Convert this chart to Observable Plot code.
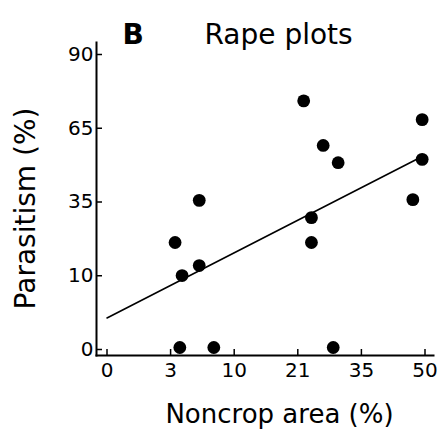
<!DOCTYPE html>
<html>
<head>
<meta charset="utf-8">
<script src="https://cdn.jsdelivr.net/npm/d3@7"></script>
<script src="https://cdn.jsdelivr.net/npm/@observablehq/plot@0.6"></script>
<style>
  html, body { margin: 0; padding: 0; background: #fff; }
</style>
</head>
<body>
<div id="chart"></div>
<script>
// Data (percent values)
const noncropArea = [21.8, 49.3, 25.9, 29.2, 49.3, 47.0, 5.1, 23.4, 2.8, 23.4, 5.1, 3.4, 3.2, 6.8, 28.1];
const parasitism  = [75.3, 68.1, 57.5, 50.2, 51.6, 34.7, 34.4, 27.6, 18.7, 18.7, 11.7, 9.1, 0, 0, 0];

// Tick labels (axes are arcsine-square-root transformed, equally spaced in degrees)
const xTickLabels = [0, 3, 10, 21, 35, 50];
const yTickLabels = [0, 10, 35, 65, 90];
const panelLetter = "B";
const panelTitle = "Rape plots";
const xLabel = "Noncrop area (%)";
const yLabel = "Parasitism (%)";

// arcsine square-root transform (degrees)
const asinSqrt = p => Math.asin(Math.sqrt(p / 100)) * 180 / Math.PI;

const points = noncropArea.map((x, i) => ({x: asinSqrt(x), y: asinSqrt(parasitism[i])}));

const xTickPos = xTickLabels.map((_, i) => i * 9);
const yTickPos = yTickLabels.map((_, i) => i * 18);
const xFmt = new Map(xTickPos.map((p, i) => [p, String(xTickLabels[i])]));
const yFmt = new Map(yTickPos.map((p, i) => [p, String(yTickLabels[i])]));

// least-squares fit in transformed space, drawn from x = 0 to the largest x
const mx = d3.mean(points, d => d.x), my = d3.mean(points, d => d.y);
const slope = d3.sum(points, d => (d.x - mx) * (d.y - my)) / d3.sum(points, d => (d.x - mx) ** 2);
const intercept = my - slope * mx;
const xMax = d3.max(points, d => d.x);
const fit = [0, xMax].map(x => ({x, y: intercept + slope * x}));

const font = "DejaVu Sans";

const chart = Plot.plot({
  width: 441,
  height: 431,
  marginLeft: 96,
  marginRight: 8,
  marginTop: 42,
  marginBottom: 76,
  style: {fontFamily: font, background: "#fff", color: "#000"},
  x: {domain: [0, 45], insetLeft: 10.5, insetRight: 8.5},
  y: {domain: [0, 72], insetTop: 10, insetBottom: 8},
  marks: [
    Plot.frame({anchor: "left", stroke: "#000", strokeWidth: 2}),
    Plot.frame({anchor: "bottom", stroke: "#000", strokeWidth: 2}),
    Plot.axisX({ticks: xTickPos, tickFormat: d => xFmt.get(d), tickSize: -6, tickPadding: 13,
      fontSize: 20, strokeWidth: 1.5, label: null, stroke: "#000", fill: "#000"}),
    Plot.axisY({ticks: yTickPos, tickFormat: d => yFmt.get(d), tickSize: -6, tickPadding: 9,
      fontSize: 20, strokeWidth: 1.5, label: null, dy: 2, stroke: "#000", fill: "#000"}),
    Plot.line(fit, {x: "x", y: "y", stroke: "#000", strokeWidth: 1.6}),
    Plot.dot(points, {x: "x", y: "y", r: 6.4, fill: "#000", stroke: "none"}),
    Plot.text([panelLetter], {frameAnchor: "top-left", textAnchor: "start", lineAnchor: "bottom",
      dx: 26, dy: 1, fontSize: 28, fontWeight: "bold", fill: "#000"}),
    Plot.text([panelTitle], {frameAnchor: "top-left", textAnchor: "start", lineAnchor: "bottom",
      dx: 108, dy: 1, fontSize: 28, fill: "#000"}),
    Plot.text([xLabel], {frameAnchor: "bottom", textAnchor: "middle", lineAnchor: "bottom",
      dx: 14.5, dy: 67, fontSize: 26, fill: "#000"}),
    Plot.text([yLabel], {frameAnchor: "left", textAnchor: "middle", lineAnchor: "bottom", rotate: -90,
      dx: -62, dy: 9.5, fontSize: 28, fill: "#000"})
  ]
});
document.getElementById("chart").appendChild(chart);
</script>
</body>
</html>
